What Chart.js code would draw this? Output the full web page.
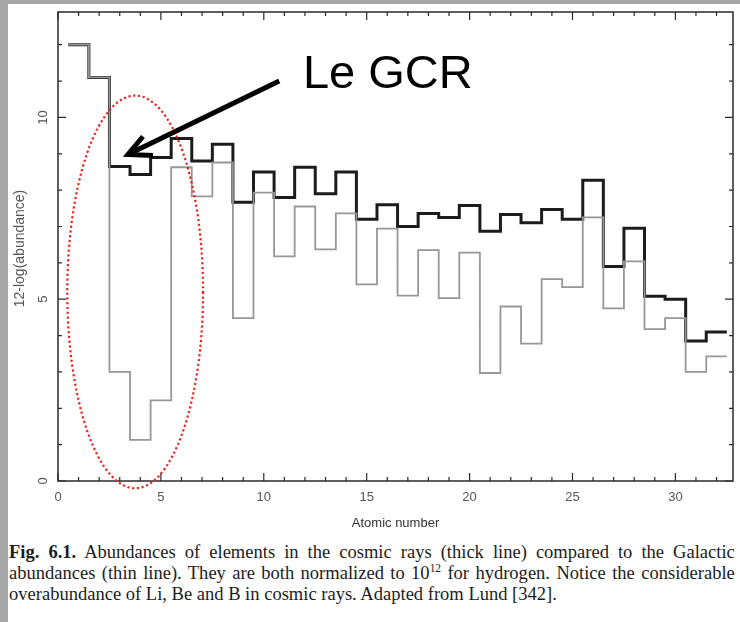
<!DOCTYPE html>
<html>
<head>
<meta charset="utf-8">
<script src="https://cdn.jsdelivr.net/npm/chart.js@4.4.1/dist/chart.umd.min.js"></script>
<style>
  html, body { margin: 0; padding: 0; }
  body { width: 740px; height: 622px; background: #a7a7a7; position: relative; overflow: hidden; }
  #paper { position: absolute; left: 8px; top: 4px; right: 0; bottom: 0; background: #fff; }
  #wrap { position: absolute; left: 0; top: 0; width: 740px; height: 535px; }
  #caption { position: absolute; left: 9px; top: 541px; width: 764px;
    transform: scaleX(0.95); transform-origin: 0 0;
    font-family: "Liberation Serif", "Times New Roman", serif; font-size: 19.5px;
    line-height: 21px; color: #1c1c1c; }
  #caption .j { text-align: justify; text-align-last: justify; white-space: nowrap; }
  #caption sup { font-size: 12px; line-height: 0; vertical-align: 7px; }
</style>
</head>
<body>
<div id="paper"></div>
<div id="wrap"><canvas id="abund" width="740" height="535"></canvas></div>
<div id="caption">
  <div class="j"><b>Fig. 6.1.</b> Abundances of elements in the cosmic rays (thick line) compared to the Galactic</div>
  <div class="j">abundances (thin line). They are both normalized to 10<sup>12</sup> for hydrogen. Notice the considerable</div>
  <div>overabundance of Li, Be and B in cosmic rays. Adapted from Lund [342].</div>
</div>
<script>
// atomic numbers Z = 1 .. 32
const atomicNumbers = [1, 2, 3, 4, 5, 6, 7, 8, 9, 10, 11, 12, 13, 14, 15, 16,
                       17, 18, 19, 20, 21, 22, 23, 24, 25, 26, 27, 28, 29, 30, 31, 32];

// 12 - log(abundance)
const cosmicRays = [12.0, 11.1, 8.65, 8.43, 8.9, 9.42, 8.8, 9.26, 7.67, 8.5, 7.8, 8.63,
                    7.9, 8.5, 7.2, 7.6, 7.0, 7.36, 7.25, 7.58, 6.87, 7.33, 7.1, 7.47,
                    7.2, 8.27, 5.9, 6.95, 5.08, 5.0, 3.85, 4.1];
const galactic = [12.0, 11.1, 3.0, 1.13, 2.22, 8.63, 7.83, 8.76, 4.48, 7.93, 6.18, 7.55,
                  6.37, 7.36, 5.41, 6.94, 5.1, 6.35, 5.03, 6.28, 2.97, 4.8, 3.78, 5.55,
                  5.33, 7.25, 4.75, 6.04, 4.18, 4.48, 3.0, 3.43];

const xTickLabels = [0, 5, 10, 15, 20, 25, 30];
const yTickLabels = [0, 5, 10];

// each element is a flat step from Z-0.5 to Z+0.5
function toSteps(vals) {
    const pts = atomicNumbers.map((z, i) => ({ x: z - 0.5, y: vals[i] }));
    pts.push({ x: atomicNumbers[atomicNumbers.length - 1] + 0.5, y: vals[vals.length - 1] });
    return pts;
}

const axisFont = '"Liberation Sans", Arial, sans-serif';

// box, inward ticks, rotated y labels and the hand-drawn annotation
const decorations = {
    id: 'decorations',
    afterDraw(chart) {
        const { ctx, chartArea: a, scales: { x, y } } = chart;
        ctx.save();
        ctx.strokeStyle = '#2a2a2a';
        ctx.lineWidth = 1.5;
        ctx.strokeRect(a.left, a.top, a.right - a.left, a.bottom - a.top);

        ctx.lineWidth = 1.2;
        ctx.beginPath();
        for (let v = Math.ceil(x.min); v <= x.max; v++) {
            const px = x.getPixelForValue(v);
            const len = v % 5 === 0 ? 8 : 4;
            ctx.moveTo(px, a.bottom); ctx.lineTo(px, a.bottom - len);
            ctx.moveTo(px, a.top); ctx.lineTo(px, a.top + len);
        }
        for (let v = Math.ceil(y.min); v <= y.max; v++) {
            const py = y.getPixelForValue(v);
            const len = v % 5 === 0 ? 8 : 4;
            ctx.moveTo(a.left, py); ctx.lineTo(a.left + len, py);
            ctx.moveTo(a.right, py); ctx.lineTo(a.right - len, py);
        }
        ctx.stroke();

        // y tick labels, rotated like the scan
        ctx.fillStyle = '#555';
        ctx.font = '13px ' + axisFont;
        ctx.textAlign = 'center';
        ctx.textBaseline = 'middle';
        yTickLabels.forEach(v => {
            ctx.save();
            ctx.translate(a.left - 15, y.getPixelForValue(v));
            ctx.rotate(-Math.PI / 2);
            ctx.fillText(String(v), 0, 0);
            ctx.restore();
        });
        ctx.save();
        ctx.font = '14px ' + axisFont;
        ctx.translate(20, (a.top + a.bottom) / 2 + 2);
        ctx.rotate(-Math.PI / 2);
        ctx.fillText('12-log(abundance)', 0, 0);
        ctx.restore();

        // red dotted ellipse around Li, Be, B
        ctx.strokeStyle = '#e8261c';
        ctx.lineWidth = 2.2;
        ctx.setLineDash([2.2, 2.6]);
        const cx = x.getPixelForValue(3.75), cy = y.getPixelForValue(5.2);
        const rx = x.getPixelForValue(3.75 + 3.3) - cx;
        const ry = cy - y.getPixelForValue(5.2 + 5.4);
        ctx.beginPath();
        ctx.ellipse(cx, cy, rx, ry, 0, 0, Math.PI * 2);
        ctx.stroke();
        ctx.setLineDash([]);

        // arrow
        const tx = x.getPixelForValue(3.4), ty = y.getPixelForValue(8.98);
        const sx = x.getPixelForValue(10.75), sy = y.getPixelForValue(11.0);
        ctx.strokeStyle = '#000';
        ctx.lineWidth = 5;
        ctx.lineCap = 'butt';
        ctx.lineJoin = 'miter';
        ctx.beginPath();
        ctx.moveTo(sx, sy); ctx.lineTo(tx + 4, ty - 2);
        ctx.stroke();
        ctx.beginPath();
        ctx.moveTo(tx + 15, ty - 18);
        ctx.lineTo(tx, ty);
        ctx.lineTo(tx + 25, ty + 1);
        ctx.stroke();

        ctx.fillStyle = '#000';
        ctx.font = '47px ' + axisFont;
        ctx.textAlign = 'left';
        ctx.textBaseline = 'alphabetic';
        ctx.fillText('Le GCR', x.getPixelForValue(11.9), y.getPixelForValue(10.8));
        ctx.restore();
    }
};

new Chart(document.getElementById('abund'), {
    type: 'line',
    data: {
        datasets: [
            {
                label: 'Galactic',
                data: toSteps(galactic),
                stepped: true,
                borderColor: '#979797',
                borderWidth: 1.8,
                pointRadius: 0,
                fill: false
            },
            {
                label: 'Cosmic rays',
                data: toSteps(cosmicRays),
                stepped: true,
                borderColor: '#1c1c1c',
                borderWidth: 3,
                pointRadius: 0,
                fill: false
            }
        ]
    },
    options: {
        responsive: false,
        animation: false,
        devicePixelRatio: 1,
        layout: { padding: { left: 0, top: 12, right: 7, bottom: 0 } },
        scales: {
            x: {
                type: 'linear',
                min: 0,
                max: 32.8,
                afterFit: s => { s.height = 54; },
                afterBuildTicks: s => { s.ticks = xTickLabels.map(v => ({ value: v })); },
                grid: { display: false, drawTicks: false },
                border: { display: false },
                ticks: {
                    color: '#555',
                    padding: 9,
                    maxRotation: 0,
                    font: { family: axisFont, size: 13 }
                },
                title: {
                    display: true,
                    text: 'Atomic number',
                    color: '#333',
                    padding: { top: 4, bottom: 4 },
                    font: { family: axisFont, size: 13 }
                }
            },
            y: {
                min: 0,
                max: 12.9,
                afterFit: s => { s.width = 58; },
                grid: { display: false, drawTicks: false },
                border: { display: false },
                ticks: { display: false }
            }
        },
        plugins: {
            legend: { display: false },
            tooltip: { enabled: false }
        }
    },
    plugins: [decorations]
});
</script>
</body>
</html>
